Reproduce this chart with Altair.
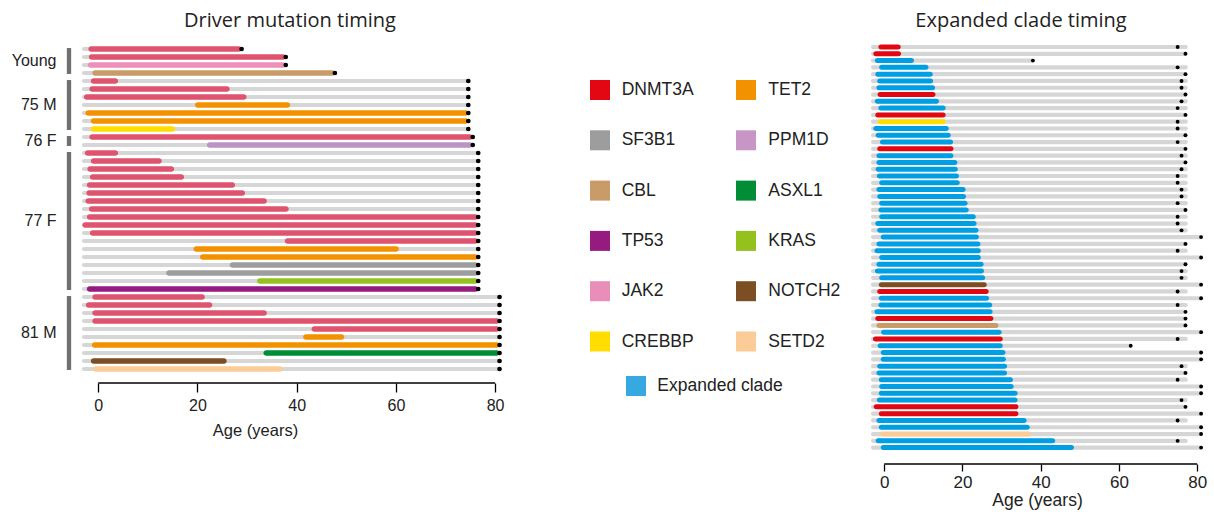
import altair as alt
import pandas as pd

# ---------------- Driver mutation timing (left panel) ----------------
groups = ["Young", "75 M", "76 F", "77 F", "81 M"]
group_sizes = [4, 7, 2, 18, 10]

drv_gene = [
    "DNMT3A", "DNMT3A", "JAK2", "CBL",
    "DNMT3A", "DNMT3A", "DNMT3A", "TET2", "TET2", "TET2", "CREBBP",
    "DNMT3A", "PPM1D",
    "DNMT3A", "DNMT3A", "DNMT3A", "DNMT3A", "DNMT3A", "DNMT3A", "DNMT3A", "DNMT3A",
    "DNMT3A", "DNMT3A", "DNMT3A", "DNMT3A", "TET2", "TET2", "SF3B1", "SF3B1", "KRAS", "TP53",
    "DNMT3A", "DNMT3A", "DNMT3A", "DNMT3A", "DNMT3A", "TET2", "TET2", "ASXL1", "NOTCH2", "SETD2",
]
drv_start = [
    -2.0, -1.9, -2.1, -1.2,
    -1.5, -1.8, -2.9, 19.5, -2.6, -1.5, -1.5,
    -1.8, 21.9,
    -2.7, -1.5, -2.2, -1.7, -2.3, -2.4, -2.6, -1.9,
    -2.3, -3.2, -1.7, 37.6, 19.2, 20.5, 26.5, 13.7, 32.0, -2.3,
    -1.2, -2.5, -1.2, -1.2, 43.0, 41.3, -1.3, 33.3, -1.5, -1.1,
]
drv_end = [
    28.9, 37.8, 37.8, 47.7,
    4.0, 26.5, 29.9, 38.7, 74.6, 74.6, 15.5,
    75.5, 75.5,
    4.0, 12.8, 15.3, 17.3, 27.6, 29.6, 34.0, 38.4,
    76.6, 76.6, 76.6, 76.6, 60.6, 76.6, 76.6, 76.6, 76.6, 76.6,
    21.5, 23.0, 34.0, 80.9, 80.9, 49.6, 80.9, 80.9, 25.9, 37.2,
]
drv_sample_age = (
    [28.9, 37.8, 37.8, 47.7]
    + [74.6] * 7
    + [75.5] * 2
    + [76.6] * 18
    + [80.9] * 10
)

# ---------------- Expanded clade timing (right panel) ----------------
clade_kind = [
    "DNMT3A", "DNMT3A", "Expanded clade", "Expanded clade", "Expanded clade",
    "Expanded clade", "Expanded clade", "DNMT3A", "Expanded clade", "Expanded clade",
    "DNMT3A", "CREBBP", "Expanded clade", "Expanded clade", "Expanded clade",
    "DNMT3A", "Expanded clade", "Expanded clade", "Expanded clade", "Expanded clade",
    "Expanded clade", "Expanded clade", "Expanded clade", "Expanded clade", "Expanded clade",
    "Expanded clade", "Expanded clade", "Expanded clade", "Expanded clade", "Expanded clade",
    "Expanded clade", "Expanded clade", "Expanded clade", "Expanded clade", "Expanded clade",
    "NOTCH2", "DNMT3A", "Expanded clade", "Expanded clade", "Expanded clade",
    "DNMT3A", "CBL", "Expanded clade", "DNMT3A", "Expanded clade",
    "Expanded clade", "Expanded clade", "Expanded clade", "Expanded clade", "Expanded clade",
    "Expanded clade", "Expanded clade", "Expanded clade", "DNMT3A", "DNMT3A",
    "Expanded clade", "Expanded clade", "SETD2", "Expanded clade", "Expanded clade",
]
clade_start = [
    -1.5, -2.8, -2.4, -1.3, -2.3, -1.8, -2.0, -1.7, -2.4, -1.5,
    -2.3, -1.7, -2.8, -2.2, -1.1, -1.8, -2.0, -2.0, -2.2, -1.9,
    -1.3, -2.0, -1.8, -1.3, -1.5, -1.3, -2.3, -1.8, -0.9, -2.0,
    -2.5, -1.3, -2.0, -2.4, -1.3, -1.4, -1.8, -1.4, -1.5, -2.5,
    -2.3, -2.0, -0.8, -2.9, -1.7, -0.9, -0.9, -1.8, -2.0, -1.4,
    -1.3, -1.4, -1.9, -2.7, -1.4, -2.0, -1.4, -1.1, -2.2, -0.9,
]
clade_end = [
    4.2, 4.3, 7.6, 11.3, 12.4, 12.5, 13.0, 13.1, 14.0, 15.7,
    15.7, 15.7, 16.5, 17.0, 17.6, 17.7, 17.7, 18.7, 18.8, 19.1,
    19.3, 20.8, 20.9, 21.3, 21.6, 23.4, 23.6, 24.1, 24.2, 24.6,
    24.7, 24.7, 25.4, 25.5, 25.8, 26.2, 26.7, 26.8, 27.6, 27.7,
    27.9, 29.2, 30.0, 30.3, 30.3, 31.0, 31.1, 31.4, 31.4, 32.9,
    33.1, 34.1, 34.1, 34.3, 34.3, 36.4, 37.2, 37.6, 43.7, 48.5,
]
clade_sample_age = [
    75, 77, 38, 75, 77, 76, 76, 77, 76, 75,
    77, 75, 75, 77, 75, 77, 76, 77, 76, 75,
    75, 76, 76, 75, 77, 75, 75, 76, 81, 77,
    75, 81, 77, 76, 76, 81, 75, 81, 75, 77,
    77, 77, 81, 75, 63, 81, 81, 76, 77, 75,
    81, 81, 76, 77, 81, 75, 81, 81, 75, 81,
]
clade_track_end = [
    77.6, 77.6, 38.3, 77.6, 77.6, 77.6, 77.6, 77.6, 77.6, 77.6,
    77.6, 77.6, 77.6, 77.6, 77.6, 77.6, 77.6, 77.6, 77.6, 77.6,
    77.6, 77.6, 77.6, 77.6, 77.6, 77.6, 77.6, 77.6, 81.4, 77.6,
    77.6, 81.4, 77.6, 77.6, 77.6, 81.4, 77.6, 81.4, 77.6, 77.6,
    77.6, 77.6, 81.4, 77.6, 63.3, 81.4, 81.4, 77.6, 77.6, 77.6,
    81.4, 81.4, 77.6, 77.6, 81.4, 77.6, 81.4, 81.4, 77.6, 81.4,
]

# ---------------- colours ----------------
legend_genes = ["DNMT3A", "TET2", "SF3B1", "PPM1D", "CBL", "ASXL1",
                "TP53", "KRAS", "JAK2", "NOTCH2", "CREBBP", "SETD2"]
legend_colors = ["#E30613", "#F39200", "#9D9D9D", "#C896C4", "#C89B68", "#008D36",
                 "#951B81", "#95C11F", "#E98DB9", "#7B4E24", "#FFDD00", "#FBCB98"]
left_colors = ["#E0536E", "#F39200", "#9D9D9D", "#B994C4", "#C89B68", "#008D36",
               "#951B81", "#95C11F", "#EE8FBA", "#7B4E24", "#FFDD00", "#FBCB98"]
clade_kinds = ["DNMT3A", "CREBBP", "NOTCH2", "CBL", "SETD2", "Expanded clade"]
clade_colors = ["#E30613", "#FFDD00", "#7B4E24", "#C89B68", "#FBCB98", "#009FE3"]
clade_swatch = "#36A9E1"

TRACK = "#D6D6D6"
TEXT = "#222222"
LABEL_FONT = "Liberation Sans"
TITLE_FONT = "Open Sans"

# ---------------- layout sizes ----------------
LW, LH = 500, 342          # left plot area
MW = 364                   # legend column
RW, RH = 336, 423          # right plot area
LEFT_X = [-18.8, 82.0]
LEFT_Y = [-1.0, -1.0 + LH / 8.0]
RIGHT_X = [-3.9, 82.0]
RIGHT_Y = [-0.884, -0.884 + RH / 6.79]


def panel_title(text, dx):
    return alt.TitleParams(text, font=TITLE_FONT, fontSize=20, fontWeight="normal",
                           color=TEXT, baseline="alphabetic", offset=-6, dx=dx,
                           anchor="middle")


def age_axis(size, tick, label_pad, title_size, title_pad):
    return alt.Axis(values=[0, 20, 40, 60, 80], domain=False, grid=False,
                    tickSize=tick, tickWidth=1.3, tickColor="black",
                    labelFont=LABEL_FONT, labelFontSize=size, labelColor=TEXT,
                    labelPadding=label_pad, labelFlush=False,
                    titleFont=LABEL_FONT, titleFontSize=title_size,
                    titleFontWeight="normal", titleColor=TEXT, titlePadding=title_pad)


# ---- left panel data ----
left = pd.DataFrame({
    "row": list(range(len(drv_gene))),
    "gene": drv_gene,
    "start": drv_start,
    "end": drv_end,
    "age": drv_sample_age,
})
left["track_start"] = -3.3
left["track_end"] = left["age"] + 0.4

first_rows, acc = [], 0
for n in group_sizes:
    first_rows.append(acc)
    acc += n
grp = pd.DataFrame({"group": groups, "first": first_rows, "size": group_sizes})
grp["last"] = grp["first"] + grp["size"] - 1
grp["y0"] = grp["first"] - 0.12
grp["y1"] = grp["last"] + 0.12
grp["mid"] = (grp["first"] + grp["last"]) / 2

xL = alt.Scale(domain=LEFT_X, nice=False, zero=False, padding=0)
yL = alt.Scale(domain=LEFT_Y, nice=False, zero=False, reverse=True, padding=0)
x_title = "Age (years)"

lbase = alt.Chart(left)
l_track = lbase.mark_bar(orient="horizontal", size=4, cornerRadius=2, color=TRACK).encode(
    x=alt.X("track_start:Q", scale=xL, axis=age_axis(16, 9, 5, 16.5, 9), title=x_title),
    x2="track_end:Q",
    y=alt.Y("row:Q", scale=yL, axis=None),
)
l_mut = lbase.mark_bar(orient="horizontal", size=5.5, cornerRadius=2.75).encode(
    x=alt.X("start:Q", title=x_title),
    x2="end:Q",
    y="row:Q",
    color=alt.Color("gene:N", scale=alt.Scale(domain=legend_genes, range=left_colors),
                    legend=None),
)
l_dot = lbase.mark_circle(size=22, color="black", opacity=1).encode(
    x=alt.X("age:Q", title=x_title), y="row:Q"
)
l_axis = alt.Chart(pd.DataFrame({"a": [0]})).mark_rule(color="black", strokeWidth=1.3).encode(
    x=alt.datum(0), x2=alt.datum(80), y=alt.value(LH)
)
l_gbar = alt.Chart(grp).mark_rule(color="#6F6F6F", strokeWidth=4.3).encode(
    x=alt.value(64), y="y0:Q", y2="y1:Q"
)
l_glab = alt.Chart(grp).mark_text(align="right", baseline="middle", font=LABEL_FONT,
                                  fontSize=16, color=TEXT).encode(
    x=alt.value(51.5), y="mid:Q", text="group:N"
)
left_chart = alt.layer(l_track, l_mut, l_dot, l_axis, l_gbar, l_glab).properties(
    width=LW, height=LH, title=panel_title("Driver mutation timing", 35)
)

# ---- legend column ----
leg_rows = []
for i, g in enumerate(legend_genes):
    col, r = i % 2, i // 2
    leg_rows.append({"label": g, "sx": 95 + 146 * col, "tx": 116.7 + 146.6 * col,
                     "y": 49 + 50.3 * r})
leg_rows.append({"label": "Expanded clade", "sx": 131, "tx": 152.3, "y": 345})
leg = pd.DataFrame(leg_rows)
xM = alt.Scale(domain=[0, MW], nice=False, zero=False, padding=0)
yM = alt.Scale(domain=[0, LH], nice=False, zero=False, reverse=True, padding=0)
m_sw = alt.Chart(leg).mark_square(size=400, opacity=1).encode(
    x=alt.X("sx:Q", scale=xM, axis=None),
    y=alt.Y("y:Q", scale=yM, axis=None),
    color=alt.Color("label:N",
                    scale=alt.Scale(domain=legend_genes + ["Expanded clade"],
                                    range=legend_colors + [clade_swatch]),
                    legend=None),
)
m_tx = alt.Chart(leg).mark_text(align="left", baseline="middle", font=LABEL_FONT,
                                fontSize=17.5, color=TEXT).encode(
    x="tx:Q", y="y:Q", text="label:N"
)
legend_chart = alt.layer(m_sw, m_tx).properties(width=MW, height=LH)

# ---- right panel data ----
right = pd.DataFrame({
    "row": list(range(len(clade_kind))),
    "kind": clade_kind,
    "start": clade_start,
    "end": clade_end,
    "age": clade_sample_age,
    "track_end": clade_track_end,
})
right["track_start"] = -3.4

xR = alt.Scale(domain=RIGHT_X, nice=False, zero=False, padding=0)
yR = alt.Scale(domain=RIGHT_Y, nice=False, zero=False, reverse=True, padding=0)
rbase = alt.Chart(right)
r_track = rbase.mark_bar(orient="horizontal", size=4.2, cornerRadius=2.1, color=TRACK).encode(
    x=alt.X("track_start:Q", scale=xR, axis=age_axis(17, 7, 3, 17.5, 1), title=x_title),
    x2="track_end:Q",
    y=alt.Y("row:Q", scale=yR, axis=None),
)
r_clade = rbase.mark_bar(orient="horizontal", size=5, cornerRadius=2.5).encode(
    x=alt.X("start:Q", title=x_title),
    x2="end:Q",
    y="row:Q",
    color=alt.Color("kind:N", scale=alt.Scale(domain=clade_kinds, range=clade_colors),
                    legend=None),
)
r_dot = rbase.mark_circle(size=15, color="black", opacity=1).encode(
    x=alt.X("age:Q", title=x_title), y="row:Q"
)
r_axis = alt.Chart(pd.DataFrame({"a": [0]})).mark_rule(color="black", strokeWidth=1.3).encode(
    x=alt.datum(0), x2=alt.datum(80), y=alt.value(RH)
)
right_chart = alt.layer(r_track, r_clade, r_dot, r_axis).properties(
    width=RW, height=RH, title=panel_title("Expanded clade timing", -16)
)

chart = (
    alt.hconcat(left_chart, legend_chart, right_chart, spacing=0)
    .resolve_scale(x="independent", y="independent", color="independent")
    .properties(padding={"left": 5, "top": 11, "right": 5, "bottom": 2}, background="white")
    .configure(font=LABEL_FONT)
    .configure_view(stroke=None)
)

chart.save("out.html", embed_options={"renderer": "svg", "actions": False})
